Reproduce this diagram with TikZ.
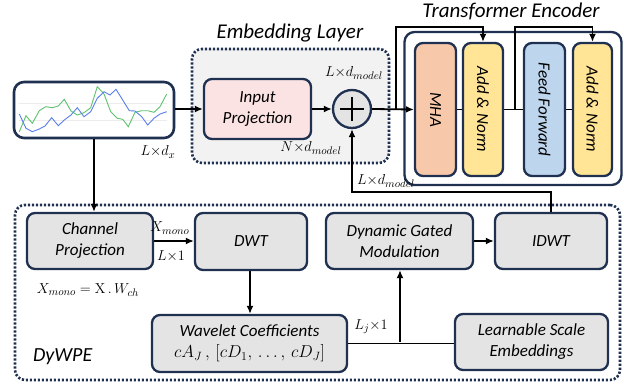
\documentclass[tikz,border=0pt]{standalone}
\usepackage[no-math]{fontspec}
\setmainfont{Carlito}
\usetikzlibrary{arrows.meta,calc}
\definecolor{navy}{HTML}{1F3050}
\definecolor{boxgray}{HTML}{E4E4E4}
\definecolor{embgray}{HTML}{F2F2F2}
\definecolor{pinkc}{HTML}{FBE3E4}
\definecolor{salmon}{HTML}{F7C9AA}
\definecolor{yellowc}{HTML}{FFE595}
\definecolor{bluec}{HTML}{BDD6EE}
\definecolor{grn}{HTML}{5EC26E}
\definecolor{blu}{HTML}{5A7EEA}
\tikzset{
 box/.style={draw=navy, line width=2.3pt, rounded corners=8pt, fill=boxgray, align=center,
   font=\fontsize{17}{21}\selectfont\itshape, inner sep=0pt},
 arr/.style={line width=1.8pt, -{Latex[length=8pt,width=7pt]}},
 ln/.style={line width=1.8pt},
 dotbox/.style={draw=navy, line width=2.6pt, dash pattern=on 2.2pt off 1.8pt, rounded corners=10pt},
 lab/.style={font=\fontsize{15}{17}\selectfont, inner sep=0pt},
 ttl/.style={font=\fontsize{21}{24}\selectfont\itshape, inner sep=0pt},
}
\begin{document}
\begin{tikzpicture}[x=1pt,y=-1pt]
\useasboundingbox (0,0) rectangle (624,383);
% group boxes
\node[dotbox, fill=embgray, minimum width=197, minimum height=114] (emb) at (290.5,106) {};
\node[dotbox, minimum width=605, minimum height=175] (dyw) at (317.5,292.5) {};
\node[draw=navy, line width=2.3pt, rounded corners=10pt, fill=white, minimum width=217, minimum height=153] (enc) at (513,108.5) {};
\node[ttl] (embt) at (290,33) {Embedding Layer};
\node[ttl] (enct) at (511,11) {Transformer Encoder};
\node[font=\fontsize{20}{24}\selectfont\itshape, anchor=west, inner sep=0pt] (dywt) at (33,357) {DyWPE};
% time series
\node[box, fill=white, rounded corners=10pt, line width=2.6pt, minimum width=160, minimum height=56] (series) at (94,110) {};
\draw[gray!15, line width=0.6pt] (19,103.3) -- (167,103.3) (19,120.7) -- (167,120.7);
\draw[grn, line width=0.9pt] (19.3,131.7) -- (26,115.7) -- (32.3,123.3) -- (39.3,110.7) -- (45.7,106.7) -- (52.3,107.7) -- (58.3,106) -- (64.3,99.3) -- (71,111) -- (77.3,115) -- (84,112.7) -- (90.7,107.7) -- (97.3,86.7) -- (104,94) -- (110.7,111.7) -- (117.3,118.3) -- (122.7,119.3) -- (128.3,126.7) -- (135,112.3) -- (141.7,110.7) -- (147.7,110.7) -- (154,112.3) -- (160,106.7) -- (166.7,94);
\draw[blu, line width=0.9pt] (19.3,114) -- (26,128.3) -- (32.3,131.7) -- (39.3,129) -- (45,126) -- (51.7,117.7) -- (58.3,125.7) -- (64.3,120) -- (71,115) -- (77.3,107.7) -- (84,116.7) -- (90.7,111.7) -- (97.3,98.3) -- (104,91.7) -- (110,95) -- (116,89.3) -- (122.7,100) -- (129.3,110.7) -- (135,111) -- (141.7,116.7) -- (147.7,125) -- (154,118.3) -- (160,114) -- (166.7,111.7);
% embedding layer
\node[box, fill=pinkc, minimum width=107, minimum height=60] (inproj) at (257.5,109) {Input\\Projection};
\node[circle, draw=navy, line width=2.3pt, fill=boxgray, minimum size=38, inner sep=0pt] (plus) at (352,109) {};
\draw[line width=2.2pt] ($(plus.center)+(-12,0)$) -- ($(plus.center)+(12,0)$) ($(plus.center)+(0,-12)$) -- ($(plus.center)+(0,12)$);
% transformer
\node[box, fill=salmon, minimum width=41, minimum height=133] (mha) at (435.5,109.5) {\rotatebox{-90}{MHA}};
\node[box, fill=yellowc, minimum width=40, minimum height=133] (an1) at (483,109.5) {\rotatebox{-90}{Add \& Norm}};
\node[box, fill=bluec, minimum width=41, minimum height=133] (ff) at (544.5,109.5) {\rotatebox{-90}{Feed Forward}};
\node[box, fill=yellowc, minimum width=39, minimum height=133] (an2) at (592.5,109.5) {\rotatebox{-90}{Add \& Norm}};
% DyWPE
\node[box, minimum width=126, minimum height=56] (chproj) at (90,241) {Channel\\Projection};
\node[box, minimum width=112, minimum height=57] (dwt) at (251,241.5) {DWT};
\node[box, minimum width=195, minimum height=57] (wave) at (249.5,343.5) {Wavelet Coefficients\\$cA_J\,,\,[cD_1,\,.\,.\,.\,,\,cD_J]$};
\node[box, minimum width=147, minimum height=56] (dgm) at (399.5,241) {Dynamic Gated\\Modulation};
\node[box, minimum width=112, minimum height=56] (idwt) at (551,241) {IDWT};
\node[box, minimum width=153, minimum height=56] (learn) at (531.5,342) {Learnable Scale\\Embeddings};
% coordinates
\coordinate (j1) at (396,109);
\coordinate (t1) at (483,27);
\coordinate (j2) at (515,109);
\coordinate (t2) at (592.5,27);
\coordinate (fb) at (352,192);
\coordinate (j3) at (400,342);
% connectors
\draw[arr] (series.east |- inproj.west) -- (inproj.west);
\draw[arr] (inproj.east) -- (plus.west);
\draw[arr] (plus.east) -- (mha.west);
\draw[arr] (j1) |- (t1) -- (an1.north);
\draw[ln] (mha.east) -- (an1.west);
\draw[ln] (an1.east) -- (ff.west);
\draw[arr] (j2) |- (t2) -- (an2.north);
\draw[ln] (ff.east) -- (an2.west);
\draw[arr] (idwt.north) |- (fb) -- (plus.south);
\draw[arr] (series.south) -- (series.south |- chproj.north);
\draw[arr] (chproj.east) -- (chproj.east -| dwt.west);
\draw[arr] (dwt.south -| 250,0) -- (wave.north -| 250,0);
\draw[ln] (wave.east) -- (learn.west |- wave.east);
\draw[arr] (j3) -- (dgm.south -| j3);
\draw[arr] (dgm.east) -- (idwt.west);
% labels
\node[lab] (l1) at (158,152) {$L{\times}d_x$};
\node[lab] (l2) at (354,73) {$L{\times}d_{model}$};
\node[lab] (l3) at (311,148) {$N{\times}d_{model}$};
\node[lab] (l4) at (386,181) {$L{\times}d_{model}$};
\node[lab] (l5) at (170,228) {$X_{mono}$};
\node[lab] (l6) at (171,256) {$L{\times}1$};
\node[lab] (l7) at (88,290) {$X_{mono}=\mathrm{X}\,.\,W_{ch}$};
\node[lab] (l8) at (371,327) {$L_j{\times}1$};
\end{tikzpicture}
\end{document}
